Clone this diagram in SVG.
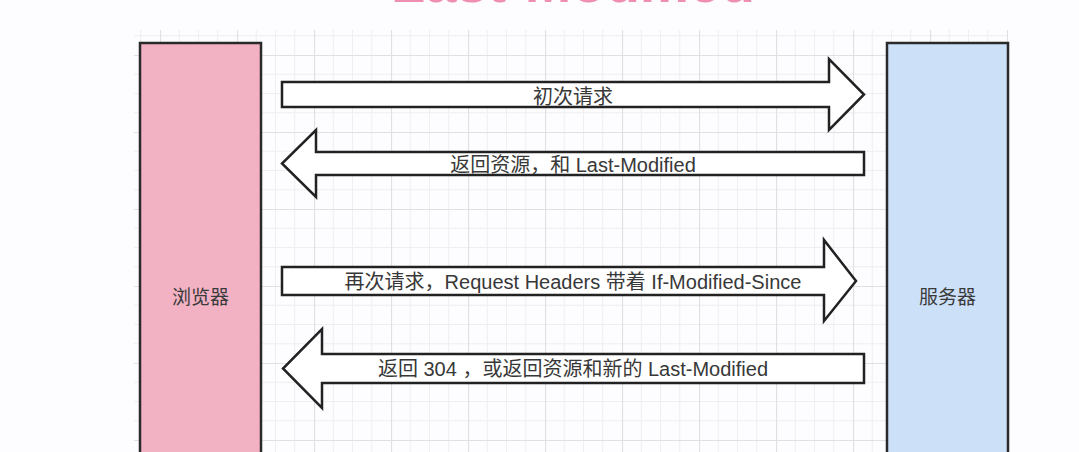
<svg xmlns="http://www.w3.org/2000/svg" width="1079" height="452" viewBox="0 0 1079 452">
<defs>
<pattern id="grid" patternUnits="userSpaceOnUse" x="160" y="55" width="77" height="77">
<path d="M19.25 0V77M38.5 0V77M57.75 0V77M0 19.25H77M0 38.5H77M0 57.75H77" fill="none" stroke="#efeff0" stroke-width="1"/>
<path d="M0.5 0V77M0 0.5H77" fill="none" stroke="#e0e0e2" stroke-width="1.2"/>
</pattern>
<clipPath id="gclip"><rect x="134" y="30" width="874" height="422"/></clipPath>
</defs>
<style>
.lbl{font-family:"Liberation Sans","Noto Sans CJK SC",sans-serif;font-size:20px;fill:#383838;text-anchor:middle;dominant-baseline:central}
.node{font-family:"Liberation Sans","Noto Sans CJK SC",sans-serif;font-size:19px;fill:#3a3a3a;text-anchor:middle;dominant-baseline:central}
.arrow{fill:#fff;stroke:#222;stroke-width:2.5;stroke-linejoin:miter}
.box{stroke:#2a2a2a;stroke-width:2.5}
</style>
<rect width="1079" height="452" fill="#fdfcfe"/>
<text x="573" y="2" font-family="Liberation Sans, Noto Sans CJK SC, sans-serif" font-size="56" font-weight="bold" fill="#ee8fb1" text-anchor="middle">Last-Modified</text>
<g clip-path="url(#gclip)">
<rect x="134" y="30" width="874" height="422" fill="url(#grid)"/>
</g>
<g id="browser">
<rect class="box" x="140" y="43" width="121" height="420" fill="#f2b2c4"/>
<text class="node" x="200.5" y="297">浏览器</text>
</g>
<g id="server">
<rect class="box" x="887" y="43" width="121" height="420" fill="#cce0f8"/>
<text class="node" x="947.5" y="297">服务器</text>
</g>
<g id="connectors">
<g id="arrow1">
<polygon class="arrow" points="282,82 829,82 829,59 864,94.5 829,130 829,107 282,107"/>
<text class="lbl" x="573" y="97">初次请求</text>
</g>
<g id="arrow2">
<polygon class="arrow" points="864,152 316,152 316,130 282,163.5 316,197 316,175 864,175"/>
<text class="lbl" x="573" y="165">返回资源，和 Last-Modified</text>
</g>
<g id="arrow3">
<polygon class="arrow" points="282,267 824,267 824,240 856,281 824,321 824,295 282,295"/>
<text class="lbl" x="573" y="282">再次请求，Request Headers 带着 If-Modified-Since</text>
</g>
<g id="arrow4">
<polygon class="arrow" points="864,354 322,354 322,329 283,368.5 322,408 322,383 864,383"/>
<text class="lbl" x="573" y="369">返回 304 ，或返回资源和新的 Last-Modified</text>
</g>
</g>
</svg>
